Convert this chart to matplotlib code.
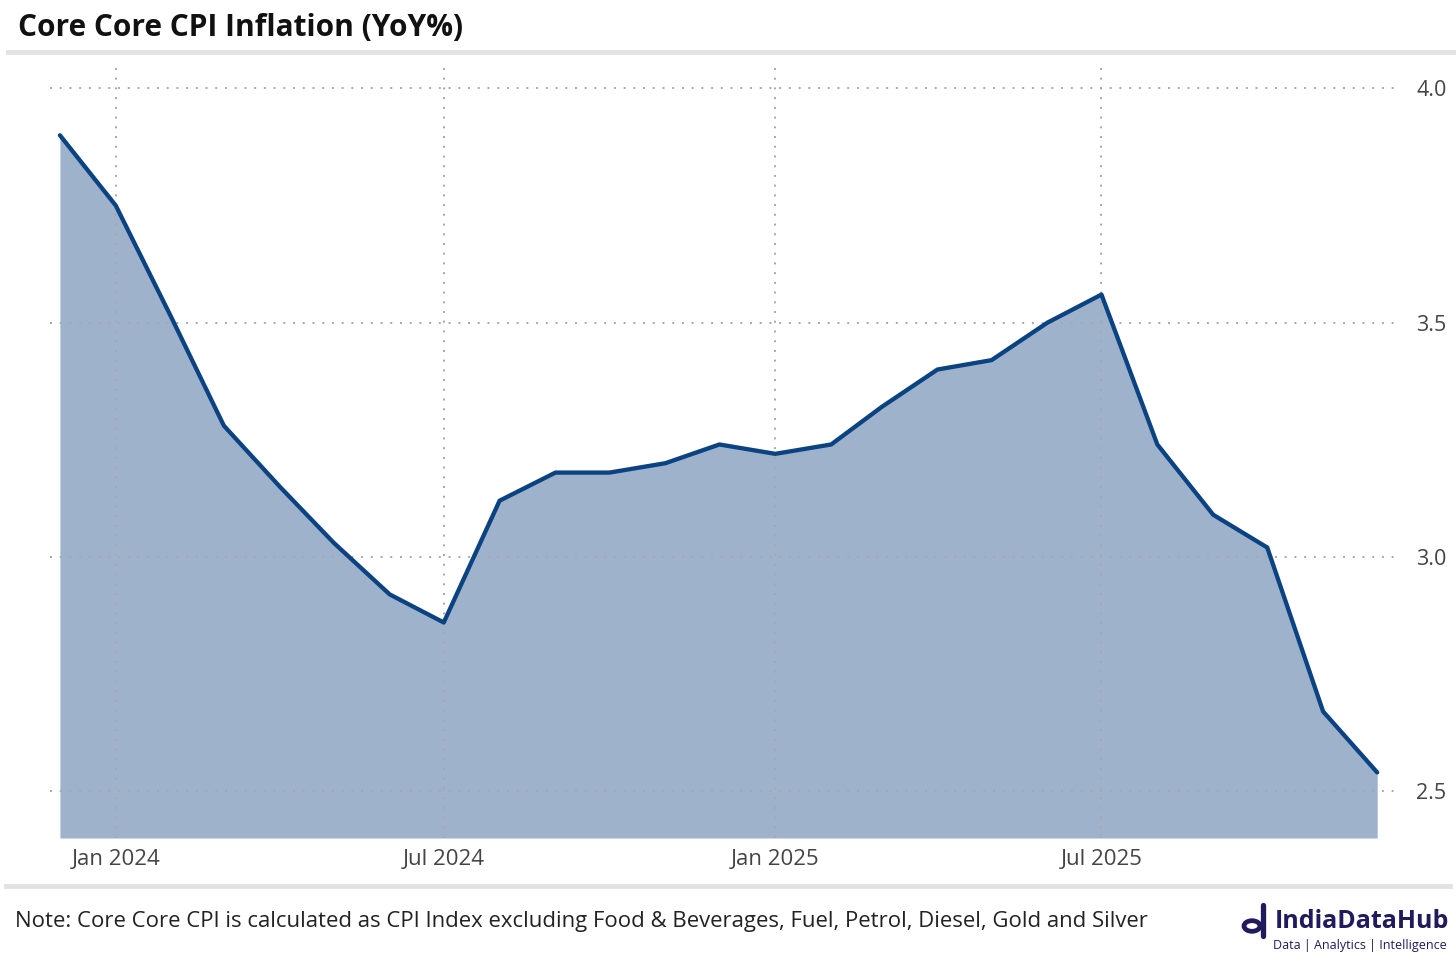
import pandas as pd
import matplotlib.pyplot as plt
from matplotlib.lines import Line2D
from matplotlib.patches import Circle

# ============================
# Data
# ============================
months = pd.date_range("2023-12-01", "2025-12-01", freq="MS")
core_core_cpi = [3.90, 3.75, 3.51, 3.28, 3.15, 3.03, 2.92, 2.86, 3.12, 3.18, 3.18, 3.20, 3.24,
                 3.22, 3.24, 3.32, 3.40, 3.42, 3.50, 3.56, 3.24, 3.09, 3.02, 2.67, 2.54]
y_ticks = [2.5, 3.0, 3.5, 4.0]
x_ticks = pd.to_datetime(["2024-01-01", "2024-07-01", "2025-01-01", "2025-07-01"])
x_labels = ["Jan 2024", "Jul 2024", "Jan 2025", "Jul 2025"]

title = "Core Core CPI Inflation (YoY%)"
note = "Note: Core Core CPI is calculated as CPI Index excluding Food & Beverages, Fuel, Petrol, Diesel, Gold and Silver"

plt.rcParams['font.family'] = ['Open Sans', 'DejaVu Sans']

W, H = 1456, 965
fig = plt.figure(figsize=(W / 100, H / 100), dpi=100)
ax = fig.add_axes([50 / W, 1 - 838 / H, (1397 - 50) / W, (838 - 65) / H])

y_min, y_max = 2.4, 4.05
line_col = "#0b4382"
fill_col = "#9eb3cb"

ax.fill_between(months, core_core_cpi, y_min, color=fill_col, linewidth=0, zorder=1)
ax.plot(months, core_core_cpi, color=line_col, linewidth=3.1, solid_joinstyle='round',
        solid_capstyle='round', zorder=3)

ax.set_ylim(y_min, y_max)
ax.set_xlim(months[0] - pd.Timedelta(days=5.5), months[-1] + pd.Timedelta(days=11))

ax.set_yticks(y_ticks)
ax.set_yticklabels([f"{v:.1f}" for v in y_ticks])
ax.set_xticks(x_ticks)
ax.set_xticklabels(x_labels)
ax.yaxis.tick_right()
ax.tick_params(axis='both', length=0, labelsize=15.5, labelcolor="#444444")
ax.tick_params(axis='x', labelsize=16, pad=8)
ax.tick_params(axis='y', pad=14)

ax.grid(True, linestyle=(0, (1, 4)), color="#a8a8a8", linewidth=1.4, zorder=2)
ax.set_axisbelow(False)
for s in ax.spines.values():
    s.set_visible(False)

# Title, separators, note
fig.text(18 / W, 1 - 28 / H, title, fontsize=21.5, fontweight='bold', color="#111111",
         va='center', ha='left')
fig.add_artist(Line2D([8 / W, 1.0], [1 - 52 / H] * 2, color="#e2e2e2", linewidth=3.5))
fig.add_artist(Line2D([6 / W, 1450 / W], [1 - 886 / H] * 2, color="#e2e2e2", linewidth=3.5))
fig.text(15 / W, 1 - 921 / H, note, fontsize=15.9, color="#222222", va='center', ha='left')

# Logo
navy = "#1f1b5c"
fig.add_artist(Circle((1252 / W, 1 - 926 / H), 8 / W, transform=fig.transFigure,
                      fill=False, edgecolor=navy, linewidth=3.4))
fig.add_artist(Line2D([1263 / W, 1263 / W], [1 - 905 / H, 1 - 936 / H], color=navy,
                      linewidth=3.8, solid_capstyle='round'))
fig.text(1275 / W, 1 - 921 / H, "IndiaDataHub", fontsize=18, fontweight='bold',
         color=navy, va='center', ha='left')
fig.text(1447 / W, 1 - 945 / H, "Data | Analytics | Intelligence", fontsize=9,
         color=navy, va='center', ha='right')

fig.savefig("out.png", dpi=100, facecolor="white")
